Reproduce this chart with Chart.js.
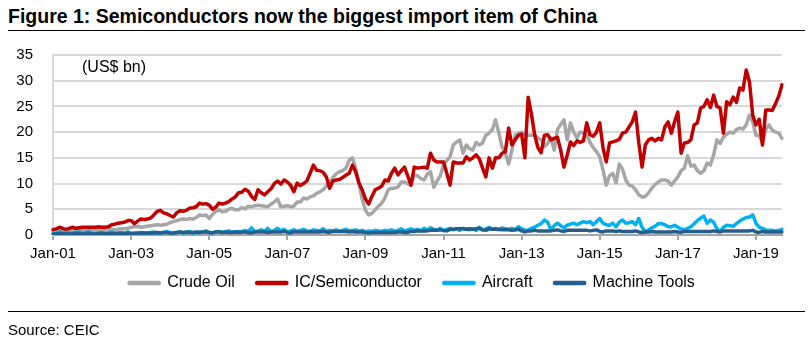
<!DOCTYPE html>
<html>
<head>
<meta charset="utf-8">
<script src="https://cdn.jsdelivr.net/npm/chart.js@4.4.1/dist/chart.umd.min.js"></script>
<style>
  body { margin: 0; background: #fff; font-family: "Liberation Sans", Arial, sans-serif; }
  #wrap { position: relative; width: 811px; height: 353px; overflow: hidden; }
  #chart { position: absolute; left: 0; top: 0; }
  #title { position: absolute; left: 8px; top: 5px; font-size: 19.5px; font-weight: bold; color: #000; white-space: nowrap; }
  .rule { position: absolute; left: 8px; width: 797px; height: 1px; background: #000; }
  #unit { position: absolute; left: 82px; top: 58px; font-size: 16px; color: #000; }
  #source { position: absolute; left: 8px; top: 321px; font-size: 15px; color: #000; }
</style>
</head>
<body>
<div id="wrap">
  <div id="title">Figure 1: Semiconductors now the biggest import item of China</div>
  <div class="rule" style="top:30px"></div>
  <canvas id="chart" width="811" height="353"></canvas>
  <div id="unit">(US$ bn)</div>
  <div class="rule" style="top:311px"></div>
  <div id="source">Source: CEIC</div>
</div>
<script>
// monthly, Jan-01 .. Sep-19, US$ bn
var years = ['01','02','03','04','05','06','07','08','09','10','11','12','13','14','15','16','17','18','19'];
var monthNames = ['Jan','Feb','Mar','Apr','May','Jun','Jul','Aug','Sep','Oct','Nov','Dec'];

var crudeOil = [
  1.1,1.0,1.1,1.0,0.9,1.0,1.0,0.9,1.0,0.9,0.8,0.9,
  0.8,0.9,1.0,1.1,1.0,1.1,1.2,1.0,1.1,1.2,1.2,1.3,
  1.5,1.6,1.7,1.5,1.6,1.7,1.8,1.9,2.0,1.9,2.0,2.1,
  2.4,2.6,2.8,3.0,3.1,3.0,3.2,3.1,3.4,3.9,3.8,3.9,
  3.2,4.0,4.6,4.9,4.5,4.6,5.0,5.2,4.9,4.9,5.3,5.1,
  5.6,5.5,5.7,5.8,5.7,5.6,5.5,6.0,6.4,7.0,5.5,5.6,
  5.7,5.5,5.6,6.4,6.4,7.2,7.0,7.4,7.6,8.1,8.4,8.8,
  9.5,10.3,11.2,11.9,12.3,12.5,13.0,14.5,15.0,13.0,10.0,7.0,
  4.8,3.9,4.2,4.9,5.6,6.2,7.2,8.8,9.1,9.1,9.3,10.3,
  10.3,10.0,9.7,11.7,11.5,11.0,10.7,11.8,12.3,9.3,10.5,11.5,
  13.6,14.5,15.2,17.5,18.1,18.5,15.9,17.5,16.8,16.5,18.0,17.5,
  17.9,19.4,19.8,20.5,22.4,19.8,17.1,15.9,13.8,16.5,19.4,19.8,
  20.0,19.5,19.4,19.4,19.4,18.9,18.5,17.2,17.8,18.9,16.5,20.5,
  21.5,22.4,18.5,21.8,20.0,18.9,20.0,19.8,19.5,18.0,17.0,16.2,
  15.2,12.6,9.7,11.5,12.0,10.1,13.8,12.8,10.7,9.7,9.5,8.8,
  7.8,7.4,7.5,8.2,9.1,9.8,10.3,10.7,10.7,10.5,9.7,10.5,
  11.3,12.5,13.0,15.4,13.4,13.6,12.5,12.0,12.5,14.0,13.6,15.6,
  18.5,17.8,19.0,19.6,20.0,19.8,20.5,20.8,20.6,21.4,23.3,22.0,
  19.4,19.4,17.9,20.5,21.4,20.4,20.0,19.8,18.8
];

var icSemiconductor = [
  1.0,1.2,1.5,1.3,1.1,1.3,1.5,1.3,1.4,1.5,1.5,1.5,
  1.5,1.5,1.6,1.5,1.5,1.6,2.0,2.1,2.3,2.4,2.5,2.8,
  2.8,2.2,2.7,3.1,3.0,3.1,3.3,3.9,4.6,4.8,4.3,4.1,
  3.8,3.5,4.3,4.7,4.6,4.8,5.2,5.3,5.5,6.2,6.0,6.1,
  5.8,5.0,5.4,6.2,6.0,6.2,6.5,7.0,7.4,8.2,8.3,8.9,
  8.5,7.5,6.9,8.8,8.2,7.8,8.4,9.0,10.0,10.5,9.9,10.7,
  10.3,9.7,8.4,10.1,9.6,10.0,10.5,12.0,13.6,12.6,12.5,12.2,
  11.3,9.1,10.5,10.7,10.8,11.2,11.6,12.0,13.6,12.3,10.1,8.8,
  7.0,6.0,7.5,8.8,9.1,9.5,10.7,10.5,12.0,13.0,11.7,12.5,
  13.2,11.5,9.7,13.2,13.0,13.1,13.2,13.0,15.9,14.6,14.2,14.2,
  14.2,12.0,9.7,14.2,14.0,14.0,14.0,15.2,14.6,15.0,15.6,14.8,
  13.0,11.3,15.0,13.0,15.0,15.0,15.9,16.2,20.8,17.5,18.5,19.4,
  19.6,15.0,26.8,23.5,19.5,17.0,16.0,19.4,19.5,18.5,18.8,19.0,
  16.5,13.2,15.5,18.1,17.4,18.3,18.0,18.3,21.8,19.5,19.2,20.0,
  21.8,17.0,14.2,17.9,18.1,18.3,18.6,19.8,20.0,21.0,22.0,23.9,
  17.9,13.2,17.5,18.5,18.8,18.3,18.8,18.5,21.0,22.0,19.8,22.0,
  23.9,15.9,17.9,18.0,18.5,21.4,21.8,24.7,25.0,26.3,24.8,27.2,
  25.0,24.7,19.8,25.9,25.3,26.8,25.8,28.6,28.2,32.1,29.8,23.3,
  21.4,22.5,17.5,24.3,24.3,24.2,25.5,27.0,29.2
];

var aircraft = [
  0.3,0.4,0.6,0.3,0.5,0.4,0.3,0.5,0.6,0.3,0.4,0.7,
  0.3,0.2,0.4,0.5,0.3,0.4,0.6,0.3,0.4,0.5,0.3,0.6,
  0.3,0.4,0.3,0.5,0.4,0.3,0.5,0.6,0.4,0.3,0.5,0.7,
  0.4,0.3,0.5,0.6,0.4,0.5,0.7,0.4,0.5,0.6,0.5,0.8,
  0.5,0.4,0.6,0.7,0.5,0.6,0.8,0.5,0.6,0.7,0.6,0.9,
  0.7,1.4,0.6,0.8,1.0,0.7,1.3,0.6,0.9,1.3,0.8,1.1,
  0.6,0.8,1.0,0.7,0.9,1.1,0.8,0.7,1.0,0.9,0.8,1.2,
  0.7,0.9,0.8,1.0,0.7,0.9,1.1,0.8,0.9,1.0,0.7,0.9,
  0.6,0.8,0.7,0.9,0.8,0.7,0.9,0.8,1.0,0.7,0.9,1.2,
  0.8,1.0,1.2,0.9,1.1,0.8,1.3,1.0,1.4,1.1,0.9,1.3,
  0.8,1.1,1.3,1.0,1.2,0.9,1.3,1.1,1.0,1.2,0.9,1.5,
  1.0,1.2,1.5,1.1,1.3,1.0,1.4,1.2,1.1,1.3,1.0,1.6,
  1.2,1.0,0.9,1.3,1.5,1.9,2.2,2.9,2.5,1.0,1.8,2.3,
  1.8,1.4,1.9,2.1,2.3,2.0,2.3,2.6,2.4,2.6,2.0,2.6,
  3.2,2.3,2.0,1.9,2.3,1.6,2.5,2.9,2.3,2.4,2.6,2.0,
  3.2,1.5,0.6,1.0,1.4,1.7,2.2,2.2,2.0,1.6,1.6,1.9,
  1.5,1.2,1.0,1.3,1.6,2.2,2.8,3.3,3.7,2.3,2.9,2.5,
  1.2,0.7,1.5,1.9,1.8,1.7,2.2,2.7,3.1,3.4,3.5,3.9,
  2.3,1.5,1.3,1.0,0.9,0.9,0.8,0.9,1.1
];

var machineTools = [
  0.2,0.2,0.3,0.3,0.2,0.3,0.3,0.3,0.3,0.2,0.3,0.3,
  0.2,0.2,0.3,0.3,0.3,0.3,0.3,0.3,0.3,0.3,0.3,0.4,
  0.3,0.3,0.4,0.4,0.4,0.4,0.4,0.4,0.5,0.4,0.5,0.5,
  0.4,0.4,0.5,0.6,0.5,0.6,0.5,0.5,0.6,0.5,0.6,0.6,
  0.5,0.4,0.6,0.6,0.5,0.6,0.5,0.5,0.6,0.5,0.6,0.6,
  0.5,0.4,0.6,0.6,0.6,0.6,0.5,0.6,0.6,0.6,0.6,0.7,
  0.5,0.4,0.6,0.6,0.6,0.6,0.6,0.6,0.6,0.6,0.6,0.7,
  0.6,0.5,0.7,0.7,0.7,0.7,0.7,0.6,0.7,0.6,0.6,0.6,
  0.5,0.4,0.5,0.5,0.5,0.5,0.5,0.5,0.5,0.5,0.6,0.6,
  0.5,0.5,0.7,0.7,0.8,0.8,0.8,0.8,0.9,0.9,0.9,1.0,
  0.9,0.8,1.1,1.1,1.2,1.2,1.2,1.1,1.2,1.1,1.2,1.3,
  1.0,0.9,1.2,1.1,1.1,1.1,1.0,1.0,1.0,0.9,1.0,1.1,
  0.8,0.6,0.8,0.8,0.9,0.8,0.8,0.8,0.8,0.8,0.9,1.0,
  0.8,0.7,0.9,0.9,0.9,0.9,0.9,0.9,0.9,0.8,0.9,1.0,
  0.7,0.6,0.8,0.8,0.8,0.7,0.8,0.7,0.7,0.7,0.7,0.8,
  0.6,0.5,0.6,0.6,0.7,0.6,0.6,0.6,0.6,0.6,0.6,0.7,
  0.6,0.5,0.7,0.7,0.7,0.7,0.7,0.7,0.7,0.7,0.7,0.8,
  0.7,0.6,0.8,0.8,0.8,0.8,0.8,0.8,0.8,0.8,0.8,0.9,
  0.6,0.5,0.7,0.6,0.6,0.6,0.6,0.6,0.6
];

// month labels, only every 24th one is shown on the axis
var months = [];
years.forEach(function(y) {
    monthNames.forEach(function(m) { months.push(m + '-' + y); });
});
months = months.slice(0, crudeOil.length);

var font = '"Liberation Sans", Arial, sans-serif';

function line(label, data, color, order) {
    return {
        label: label,
        data: data,
        borderColor: color,
        backgroundColor: color,
        borderWidth: 3.5,
        pointRadius: 0,
        tension: 0,
        fill: false,
        borderJoinStyle: 'round',
        borderCapStyle: 'round',
        order: order
    };
}

// legend sits a bit higher and further right than Chart.js puts it
var legendNudge = {
    id: 'legendNudge',
    afterLayout: function(chart) {
        var lg = chart.legend;
        lg.top -= 9; lg.bottom -= 9;
        lg.left += 21; lg.right += 21;
    }
};

new Chart(document.getElementById('chart'), {
    type: 'line',
    data: {
        labels: months,
        datasets: [
            line('Crude Oil', crudeOil, '#a6a6a6', 4),
            line('IC/Semiconductor', icSemiconductor, '#c00000', 3),
            line('Aircraft', aircraft, '#00b0f0', 2),
            line('Machine Tools', machineTools, '#255e8c', 1)
        ]
    },
    plugins: [legendNudge],
    options: {
        responsive: false,
        animation: false,
        layout: {
            padding: { top: 55, left: 0, right: 29, bottom: 43 }
        },
        scales: {
            x: {
                offset: false,
                afterFit: function(scale) { scale.height = 27; },
                grid: {
                    drawOnChartArea: false,
                    tickLength: 5,
                    lineWidth: 2,
                    color: function(ctx) { return ctx.index % 24 === 0 ? '#a6a6a6' : 'rgba(0,0,0,0)'; }
                },
                border: { display: true, color: '#a6a6a6', width: 2 },
                ticks: {
                    autoSkip: false,
                    maxRotation: 0,
                    minRotation: 0,
                    padding: 5,
                    color: '#000',
                    font: { family: font, size: 15 },
                    callback: function(value, index) {
                        return index % 24 === 0 ? this.getLabelForValue(value) : '';
                    }
                }
            },
            y: {
                min: 0,
                max: 35,
                afterFit: function(scale) { scale.width = 53; },
                grid: { color: '#d9d9d9', lineWidth: 2, drawTicks: false },
                border: { display: true, color: '#d9d9d9', width: 2 },
                ticks: {
                    stepSize: 5,
                    padding: 20,
                    color: '#000',
                    font: { family: font, size: 15 }
                }
            }
        },
        plugins: {
            legend: {
                position: 'bottom',
                labels: {
                    boxWidth: 30,
                    boxHeight: 1,
                    padding: 22,
                    color: '#000',
                    font: { family: font, size: 16 },
                    sort: function(a, b) { return a.datasetIndex - b.datasetIndex; }
                }
            },
            tooltip: { enabled: false }
        }
    }
});
</script>
</body>
</html>
